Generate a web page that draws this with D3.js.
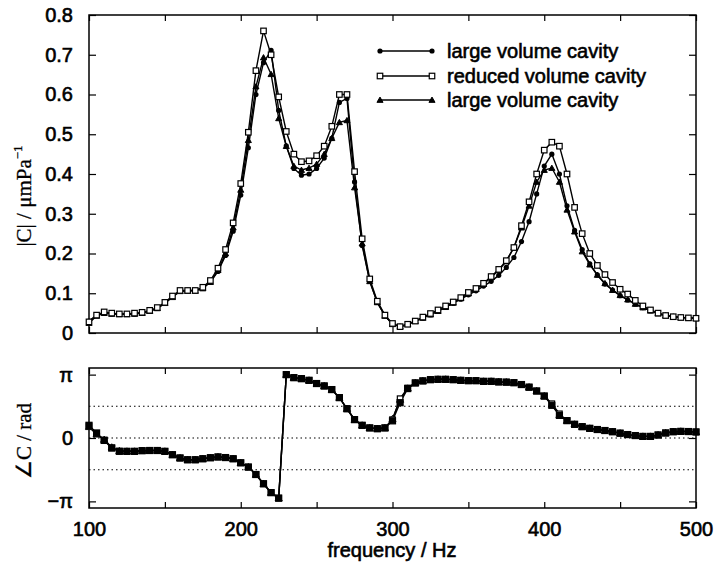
<!DOCTYPE html>
<html>
<head>
<meta charset="utf-8">
<script src="https://cdn.jsdelivr.net/npm/d3@7"></script>
<style>
  html, body { margin: 0; padding: 0; background: #fff; }
  svg { display: block; }
  .tick text { font-family: "Liberation Sans", Arial, sans-serif; font-size: 20px; fill: #000; }
</style>
</head>
<body>
<svg id="chart" width="715" height="572"></svg>
<script>
// Frequency grid (Hz)
const freqs = d3.range(100, 501, 5);

// |C| in µm/Pa for the three cavities
const magLarge = [
  0.030, 0.045, 0.050, 0.048, 0.047, 0.047, 0.048, 0.050, 0.055, 0.062,
  0.075, 0.092, 0.105, 0.107, 0.107, 0.113, 0.128, 0.155, 0.195, 0.256,
  0.347, 0.466, 0.600, 0.680, 0.711, 0.560, 0.471, 0.414, 0.397, 0.400,
  0.414, 0.440, 0.490, 0.580, 0.590, 0.380, 0.220, 0.130, 0.077, 0.043,
  0.022, 0.016, 0.022, 0.030, 0.038, 0.046, 0.055, 0.065, 0.075, 0.085,
  0.096, 0.106, 0.118, 0.130, 0.145, 0.165, 0.190, 0.230, 0.280, 0.350,
  0.420, 0.450, 0.400, 0.320, 0.258, 0.210, 0.174, 0.146, 0.123, 0.108,
  0.094, 0.083, 0.073, 0.064, 0.056, 0.049, 0.044, 0.041, 0.039, 0.038,
  0.037
];
const magReduced = [
  0.028, 0.045, 0.053, 0.050, 0.048, 0.048, 0.050, 0.052, 0.057, 0.064,
  0.077, 0.093, 0.107, 0.107, 0.107, 0.115, 0.132, 0.163, 0.210, 0.277,
  0.376, 0.505, 0.660, 0.760, 0.700, 0.594, 0.507, 0.450, 0.431, 0.433,
  0.446, 0.470, 0.520, 0.600, 0.600, 0.406, 0.237, 0.136, 0.080, 0.045,
  0.024, 0.016, 0.022, 0.030, 0.040, 0.049, 0.058, 0.068, 0.078, 0.089,
  0.102, 0.112, 0.125, 0.142, 0.160, 0.182, 0.215, 0.270, 0.330, 0.400,
  0.460, 0.480, 0.470, 0.400, 0.316, 0.250, 0.200, 0.170, 0.147, 0.127,
  0.110, 0.098, 0.082, 0.068, 0.058, 0.050, 0.044, 0.041, 0.039, 0.038,
  0.037
];
const magLarge2 = [
  0.025, 0.043, 0.050, 0.048, 0.047, 0.047, 0.048, 0.050, 0.055, 0.062,
  0.075, 0.090, 0.105, 0.106, 0.106, 0.112, 0.128, 0.158, 0.200, 0.265,
  0.360, 0.485, 0.620, 0.693, 0.651, 0.540, 0.470, 0.420, 0.410, 0.415,
  0.425, 0.450, 0.490, 0.530, 0.535, 0.366, 0.225, 0.130, 0.077, 0.043,
  0.022, 0.016, 0.022, 0.030, 0.038, 0.046, 0.055, 0.065, 0.076, 0.087,
  0.099, 0.110, 0.123, 0.140, 0.158, 0.180, 0.215, 0.265, 0.320, 0.380,
  0.410, 0.415, 0.380, 0.310, 0.255, 0.205, 0.172, 0.146, 0.125, 0.108,
  0.095, 0.084, 0.073, 0.064, 0.056, 0.049, 0.044, 0.041, 0.039, 0.038,
  0.037
];

// Phase of C in rad
const phaseLarge = [
  0.63, 0.25, -0.12, -0.50, -0.66, -0.66, -0.66, -0.63, -0.62, -0.62,
  -0.66, -0.83, -0.99, -1.08, -1.08, -1.03, -0.98, -0.94, -0.97, -1.03,
  -1.23, -1.44, -1.81, -2.27, -2.71, -2.98, 3.14, 2.99, 2.94, 2.86,
  2.70, 2.58, 2.40, 2.00, 1.45, 0.91, 0.63, 0.50, 0.46, 0.50,
  0.85, 1.75, 2.45, 2.73, 2.83, 2.89, 2.91, 2.91, 2.89, 2.86,
  2.84, 2.84, 2.81, 2.81, 2.78, 2.77, 2.74, 2.65, 2.52, 2.33,
  2.08, 1.62, 1.12, 0.86, 0.68, 0.56, 0.48, 0.42, 0.37, 0.31,
  0.24, 0.17, 0.12, 0.08, 0.08, 0.15, 0.25, 0.31, 0.33, 0.32,
  0.30
];
const phaseReduced = [
  0.60, 0.22, -0.10, -0.48, -0.65, -0.66, -0.66, -0.63, -0.62, -0.62,
  -0.66, -0.83, -0.99, -1.08, -1.08, -1.03, -0.98, -0.94, -0.97, -1.03,
  -1.23, -1.44, -1.81, -2.27, -2.71, -2.98, 3.14, 2.99, 2.94, 2.86,
  2.70, 2.58, 2.40, 2.00, 1.45, 0.91, 0.63, 0.50, 0.46, 0.50,
  0.91, 1.95, 2.48, 2.73, 2.83, 2.89, 2.91, 2.91, 2.89, 2.86,
  2.84, 2.84, 2.81, 2.81, 2.78, 2.77, 2.74, 2.65, 2.52, 2.33,
  2.08, 1.70, 1.20, 0.86, 0.68, 0.56, 0.48, 0.42, 0.37, 0.31,
  0.24, 0.17, 0.12, 0.08, 0.08, 0.15, 0.25, 0.31, 0.33, 0.32,
  0.30
];
const phaseLarge2 = [
  0.55, 0.18, -0.08, -0.46, -0.64, -0.66, -0.66, -0.63, -0.62, -0.62,
  -0.66, -0.83, -0.99, -1.08, -1.08, -1.03, -0.98, -0.94, -0.97, -1.03,
  -1.23, -1.44, -1.81, -2.27, -2.71, -2.98, 3.14, 2.99, 2.94, 2.86,
  2.70, 2.58, 2.40, 2.00, 1.45, 0.91, 0.63, 0.50, 0.46, 0.50,
  0.95, 1.90, 2.46, 2.73, 2.83, 2.89, 2.91, 2.91, 2.89, 2.86,
  2.84, 2.84, 2.81, 2.81, 2.78, 2.77, 2.74, 2.65, 2.52, 2.33,
  2.08, 1.66, 1.15, 0.86, 0.68, 0.56, 0.48, 0.42, 0.37, 0.31,
  0.24, 0.17, 0.12, 0.08, 0.08, 0.15, 0.25, 0.31, 0.33, 0.32,
  0.30
];

const magTicks = [0, 0.1, 0.2, 0.3, 0.4, 0.5, 0.6, 0.7, 0.8];
const magTickLabels = ["0", "0.1", "0.2", "0.3", "0.4", "0.5", "0.6", "0.7", "0.8"];
const freqTicks = [100, 200, 300, 400, 500];
const freqMinorTicks = [100, 150, 200, 250, 300, 350, 400, 450, 500];
const phaseTicks = [-Math.PI, 0, Math.PI];
const phaseTickLabels = ["\u2212\u03c0", "0", "\u03c0"];
const phaseGrid = [-Math.PI / 2, 0, Math.PI / 2];
const legendLabels = ["large volume cavity", "reduced volume cavity", "large volume cavity"];

const svg = d3.select("#chart");

const x = d3.scaleLinear().domain([100, 500]).range([89, 696]);
const yMag = d3.scaleLinear().domain([0, 0.8]).range([333, 15]);
const yPh = d3.scaleLinear().domain([-3.47, 3.47]).range([508, 368]);

const sansFont = '"Liberation Sans", Arial, sans-serif';
const serifFont = '"Liberation Serif", "Times New Roman", serif';
const textStroke = 0.6;

// --- panel helpers ---
function frame(y0, y1) {
  svg.append("rect")
    .attr("x", x.range()[0]).attr("y", y1)
    .attr("width", x.range()[1] - x.range()[0]).attr("height", y0 - y1)
    .attr("fill", "none").attr("stroke", "#000").attr("stroke-width", 1.5);
}

function styleAxis(g) {
  g.select(".domain").remove();
  g.selectAll(".tick line").attr("stroke", "#000").attr("stroke-width", 1.2);
  g.selectAll(".tick text").attr("stroke", "#000").attr("stroke-width", textStroke);
}

// Symbols
function drawCircles(g, xs, ys, r) {
  g.selectAll(null).data(xs).enter().append("circle")
    .attr("cx", (d) => x(d)).attr("cy", (d, i) => ys[i]).attr("r", r)
    .attr("fill", "#000");
}
function drawSquares(g, xs, ys, s, filled) {
  g.selectAll(null).data(xs).enter().append("rect")
    .attr("x", (d) => x(d) - s / 2).attr("y", (d, i) => ys[i] - s / 2)
    .attr("width", s).attr("height", s)
    .attr("fill", filled ? "#000" : "#fff")
    .attr("stroke", "#000").attr("stroke-width", 1.2);
}
function drawTriangles(g, xs, ys, size, filled) {
  const sym = d3.symbol().type(d3.symbolTriangle).size(size);
  g.selectAll(null).data(xs).enter().append("path")
    .attr("d", sym)
    .attr("transform", (d, i) => `translate(${x(d)},${ys[i] + 0.6})`)
    .attr("fill", filled ? "#000" : "#fff")
    .attr("stroke", "#000").attr("stroke-width", 1);
}
function drawLine(g, vals, yScale) {
  const line = d3.line().x((d, i) => x(freqs[i])).y((d) => yScale(d));
  g.append("path").datum(vals).attr("d", line)
    .attr("fill", "none").attr("stroke", "#000").attr("stroke-width", 1.4);
}

// ===== Upper panel: magnitude =====
frame(yMag.range()[0], yMag.range()[1]);

svg.append("g").attr("transform", `translate(${x.range()[0]},0)`)
  .call(d3.axisLeft(yMag).tickValues(magTicks).tickSize(-7).tickPadding(16)
    .tickFormat((d, i) => magTickLabels[i]))
  .call(styleAxis);
svg.append("g").attr("transform", `translate(${x.range()[1]},0)`)
  .call(d3.axisRight(yMag).tickValues(magTicks).tickSize(-7).tickFormat(""))
  .call(styleAxis);
svg.append("g").attr("transform", `translate(0,${yMag.range()[0]})`)
  .call(d3.axisBottom(x).tickValues(freqMinorTicks).tickSize(-6).tickFormat(""))
  .call(styleAxis);
svg.append("g").attr("transform", `translate(0,${yMag.range()[1]})`)
  .call(d3.axisTop(x).tickValues(freqMinorTicks).tickSize(-6).tickFormat(""))
  .call(styleAxis);

const gMag = svg.append("g");
drawLine(gMag, magLarge2, yMag);
drawLine(gMag, magLarge, yMag);
drawLine(gMag, magReduced, yMag);
drawTriangles(gMag, freqs, magLarge2.map(yMag), 16, true);
drawCircles(gMag, freqs, magLarge.map(yMag), 2.6);
drawSquares(gMag, freqs, magReduced.map(yMag), 5.5, false);

// y label of the upper panel
const magLabel = svg.append("text")
  .attr("transform", "translate(31,196) rotate(-90)")
  .attr("text-anchor", "middle")
  .attr("font-family", serifFont).attr("font-size", 21).attr("fill", "#000")
  .attr("stroke", "#000").attr("stroke-width", 0.3);
magLabel.append("tspan").text("|C| / \u03bcmPa");
magLabel.append("tspan").attr("dy", -9).attr("font-size", 13).text("\u22121");

// Legend
const legendY = [51, 76, 100];
const legend = svg.append("g");
legendLabels.forEach((lab, i) => {
  const ly = legendY[i];
  legend.append("line").attr("x1", 380).attr("x2", 432).attr("y1", ly).attr("y2", ly)
    .attr("stroke", "#000").attr("stroke-width", 1.4);
  const ends = [380, 432];
  ends.forEach((ex) => {
    if (i === 0) {
      legend.append("circle").attr("cx", ex).attr("cy", ly).attr("r", 2.6).attr("fill", "#000");
    } else if (i === 1) {
      legend.append("rect").attr("x", ex - 2.75).attr("y", ly - 2.75).attr("width", 5.5).attr("height", 5.5)
        .attr("fill", "#fff").attr("stroke", "#000").attr("stroke-width", 1.2);
    } else {
      legend.append("path").attr("d", d3.symbol().type(d3.symbolTriangle).size(16))
        .attr("transform", `translate(${ex},${ly + 0.6})`).attr("fill", "#000").attr("stroke", "#000");
    }
  });
  legend.append("text").attr("x", 447).attr("y", ly).attr("dy", "0.35em")
    .attr("font-family", sansFont).attr("font-size", 20)
    .attr("stroke", "#000").attr("stroke-width", textStroke)
    .text(lab);
});

// ===== Lower panel: phase =====
frame(yPh.range()[0], yPh.range()[1]);

svg.append("g").selectAll("line").data(phaseGrid).enter().append("line")
  .attr("x1", x.range()[0]).attr("x2", x.range()[1])
  .attr("y1", (d) => yPh(d)).attr("y2", (d) => yPh(d))
  .attr("stroke", "#000").attr("stroke-width", 1.1).attr("stroke-dasharray", "1.5,3");

svg.append("g").attr("transform", `translate(${x.range()[0]},0)`)
  .call(d3.axisLeft(yPh).tickValues(phaseTicks).tickSize(-7).tickPadding(16)
    .tickFormat((d, i) => phaseTickLabels[i]))
  .call(styleAxis);
svg.append("g").attr("transform", `translate(${x.range()[1]},0)`)
  .call(d3.axisRight(yPh).tickValues(phaseTicks).tickSize(-7).tickFormat(""))
  .call(styleAxis);
svg.append("g").attr("transform", `translate(0,${yPh.range()[0]})`)
  .call(d3.axisBottom(x).tickValues(freqMinorTicks).tickSize(-6).tickPadding(14)
    .tickFormat((d) => (freqTicks.includes(d) ? d : "")))
  .call(styleAxis);
svg.append("g").attr("transform", `translate(0,${yPh.range()[1]})`)
  .call(d3.axisTop(x).tickValues(freqMinorTicks).tickSize(-6).tickFormat(""))
  .call(styleAxis);

const gPh = svg.append("g");
drawLine(gPh, phaseLarge2, yPh);
drawLine(gPh, phaseReduced, yPh);
drawLine(gPh, phaseLarge, yPh);
drawTriangles(gPh, freqs, phaseLarge2.map(yPh), 22, false);
drawSquares(gPh, freqs, phaseReduced.map(yPh), 5.5, false);
drawSquares(gPh, freqs, phaseLarge.map(yPh), 6, true);

svg.append("text")
  .attr("transform", "translate(31,441) rotate(-90)")
  .attr("text-anchor", "middle")
  .attr("font-family", serifFont).attr("font-size", 21).attr("fill", "#000")
  .attr("stroke", "#000").attr("stroke-width", 0.3)
  .text("\u2220C / rad");

svg.append("text")
  .attr("x", 392).attr("y", 557)
  .attr("text-anchor", "middle")
  .attr("font-family", sansFont).attr("font-size", 20)
  .attr("stroke", "#000").attr("stroke-width", textStroke)
  .text("frequency / Hz");
</script>
</body>
</html>
